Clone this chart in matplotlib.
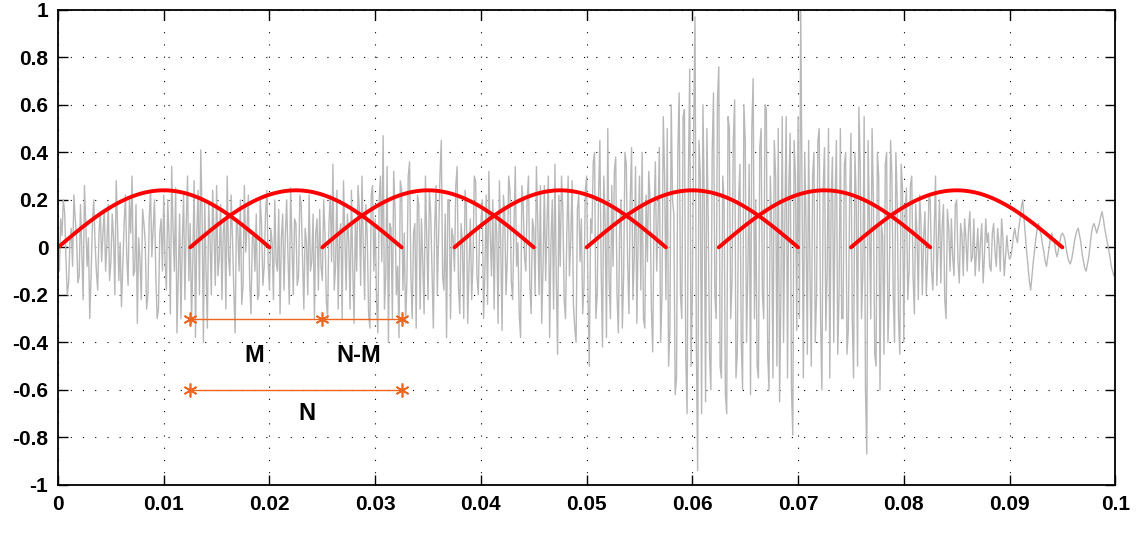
import numpy as np
import matplotlib
matplotlib.use('Agg')
import matplotlib.pyplot as plt

plt.rcParams['font.family'] = ['Liberation Sans', 'DejaVu Sans']

# speech-like signal: even samples, every 0.25 ms
signal_even = [
    0.02, 0.12, 0.2, -0.05, -0.15, 0.08, 0.22, 0.05, -0.12, -0.02, 0.26, -0.08, -0.3, 0.1, 0.02, -0.18, 0.15, 0.06, -0.1, 0.18,
    -0.06, 0.04, 0.28, -0.14, -0.25, 0.1, -0.04, 0.2, 0.3, -0.1, -0.32, -0.05, 0.16, 0.02, -0.2, 0.24, 0.08, -0.12, -0.26, 0.12,
    0.22, -0.18, 0.05, 0.34, -0.1, -0.36, 0.14, 0.02, -0.22, 0.3, 0.1, -0.05, -0.38, 0.24, 0.41, -0.4, -0.1, 0.18, -0.2, 0.06,
    0.26, -0.04, -0.22, 0.12, 0.3, -0.12, 0.04, -0.36, 0.08, 0.2, -0.16, -0.02, 0.22, -0.28, 0.06, 0.14, -0.2, 0.1, -0.08, 0.24,
    -0.18, 0.02, 0.2, -0.1, -0.28, 0.14, 0.05, -0.04, 0.25, -0.2, 0.1, -0.12, 0.18, -0.26, 0.02, 0.22, -0.06, -0.3, 0.12, 0.16,
    -0.14, 0.06, -0.3, 0.22, 0.35, -0.08, -0.26, 0.1, 0.28, -0.18, 0.02, 0.24, -0.32, -0.1, 0.16, 0.3, -0.22, 0.04, -0.34, 0.26,
    0.12, -0.36, 0.3, 0.47, -0.12, -0.4, 0.08, 0.32, -0.2, -0.38, 0.24, 0.06, -0.14, 0.36, -0.3, 0.1, 0.22, -0.26, -0.06, 0.3,
    -0.22, 0.14, -0.34, 0.26, 0.04, 0.45, -0.18, -0.38, 0.2, 0.08, -0.1, 0.34, -0.28, 0.02, 0.24, -0.32, 0.12, -0.06, 0.28, -0.2,
    0.1, -0.3, 0.22, 0.32, -0.12, -0.26, 0.06, 0.28, -0.35, 0.14, -0.04, 0.24, -0.22, 0.34, 0.02, -0.38, 0.18, -0.1, 0.3, -0.28,
    0.08, 0.34, -0.2, -0.32, 0.26, 0.1, -0.38, 0.2, 0.35, -0.45, -0.08, 0.16, -0.3, 0.3, 0.04, -0.24, -0.4, 0.22, 0.12, -0.16,
    0.3, -0.5, 0.06, 0.4, -0.2, 0.45, -0.42, 0.1, 0.5, -0.3, -0.08, 0.38, -0.36, 0.2, -0.12, 0.35, -0.28, 0.42, -0.04, -0.32,
    0.3, 0.4, -0.34, -0.06, 0.2, -0.44, 0.36, 0.1, -0.4, 0.55, -0.22, -0.5, 0.6, 0.14, -0.55, 0.65, -0.3, 0.58, -0.7, 0.75,
    -0.2, 0.97, -0.94, 0.3, 0.6, -0.65, 0.12, -0.6, 0.65, -0.3, 0.76, -0.55, 0.2, -0.7, 0.5, -0.15, 0.62, -0.45, 0.35, -0.6,
    0.45, -0.1, -0.62, 0.71, 0.2, -0.55, 0.5, -0.3, 0.58, -0.6, 0.1, 0.45, -0.5, -0.65, 0.55, 0.12, -0.55, 0.48, -0.79, 0.3,
    0.55, 1.0, -0.55, 0.1, 0.45, -0.5, 0.4, -0.2, 0.5, -0.6, 0.42, -0.1, -0.55, 0.38, 0.2, -0.45, 0.5, -0.3, 0.4, -0.35,
    0.48, -0.55, 0.2, 0.59, -0.3, 0.55, -0.87, 0.1, 0.5, -0.45, 0.4, -0.6, 0.05, 0.35, -0.4, 0.45, -0.2, 0.4, -0.3, 0.35,
    -0.4, 0.25, -0.1, 0.3, -0.28, 0.05, 0.22, -0.2, 0.15, -0.05, 0.2, -0.18, 0.3, 0.02, -0.15, 0.18, -0.3, 0.08, 0.12, -0.12,
    0.2, -0.15, 0.05, 0.12, -0.1, 0.15, -0.04, -0.12, 0.08, 0.02, -0.15, 0.12, 0.06, -0.1, 0.1, -0.08, 0.02, 0.12, -0.12, 0.05,
    -0.05, 0.0, 0.08, 0.02, 0.12, 0.2, 0.05, -0.08, -0.18, -0.06, 0.04, 0.1, 0.05, -0.02, -0.08, 0.0, 0.06, 0.02, -0.04, 0.02,
    0.06, 0.03, -0.04, -0.07, -0.02, 0.05, 0.08, 0.02, -0.06, -0.1, -0.04, 0.06, 0.1, 0.06, 0.1, 0.15, 0.08, 0.02, -0.04, -0.1,
]
# odd samples, in between the even ones
signal_odd = [
    -0.1, 0.05, 0.15, -0.2, 0.02, -0.08, 0.12, -0.15, 0.18, -0.22, 0.1, 0.04, -0.12, 0.2, -0.1, 0.06, -0.06, 0.16, 0.02, -0.14,
    0.14, -0.2, 0.1, 0.02, -0.08, 0.22, -0.16, 0.06, -0.12, 0.18, 0.04, -0.22, 0.1, -0.26, 0.12, -0.04, 0.2, -0.3, 0.06, -0.1,
    -0.06, 0.2, -0.28, 0.08, 0.25, -0.12, -0.3, 0.22, 0.1, -0.14, -0.32, 0.28, 0.06, -0.2, 0.14, 0.2, -0.34, 0.04, 0.24, -0.16,
    -0.12, 0.18, 0.06, -0.26, -0.04, 0.22, -0.18, 0.12, -0.1, -0.24, 0.26, 0.08, -0.14, 0.04, -0.1, -0.22, 0.2, -0.16, 0.14, -0.06,
    0.08, -0.22, -0.06, 0.16, 0.04, -0.18, 0.2, -0.24, 0.02, 0.12, -0.16, 0.22, -0.04, 0.08, -0.2, -0.1, 0.14, 0.06, -0.18, -0.08,
    0.2, -0.22, 0.1, -0.06, -0.18, 0.24, 0.06, -0.3, 0.04, 0.14, -0.26, -0.08, 0.12, 0.26, -0.16, 0.0, 0.18, -0.28, 0.22, -0.1,
    -0.22, 0.2, -0.06, -0.26, 0.34, 0.1, -0.3, 0.16, -0.08, 0.28, -0.18, -0.32, 0.3, -0.12, 0.06, -0.34, 0.18, 0.12, -0.28, 0.04,
    0.24, -0.1, 0.08, -0.2, 0.3, -0.12, 0.14, 0.2, -0.3, 0.04, 0.26, -0.16, 0.1, -0.3, 0.18, -0.08, -0.22, 0.3, -0.12, 0.08,
    0.2, -0.1, -0.24, 0.06, 0.2, 0.14, -0.32, 0.02, 0.22, -0.2, 0.3, -0.14, 0.08, -0.08, -0.28, 0.26, -0.04, 0.2, -0.16, 0.12,
    -0.2, 0.1, 0.26, -0.08, -0.14, 0.3, 0.02, -0.26, -0.12, 0.22, 0.3, -0.22, 0.06, -0.12, 0.28, -0.34, 0.16, -0.06, -0.28, 0.24,
    -0.2, 0.12, 0.36, -0.3, 0.22, -0.1, 0.3, -0.38, -0.14, 0.26, 0.32, -0.2, 0.08, -0.34, 0.4, -0.06, 0.2, -0.22, 0.34, 0.06,
    -0.18, -0.3, 0.22, 0.32, -0.26, 0.14, -0.1, 0.42, -0.2, 0.3, 0.5, -0.35, 0.2, -0.62, 0.4, -0.2, 0.55, -0.45, 0.3, -0.5,
    0.5, -0.4, 0.45, -0.7, 0.2, 0.5, -0.45, 0.4, -0.2, 0.62, -0.5, 0.3, -0.62, 0.55, -0.3, 0.45, -0.55, 0.2, -0.4, 0.6,
    -0.4, 0.35, 0.5, -0.3, -0.5, 0.42, -0.2, 0.6, -0.45, 0.3, -0.55, 0.3, 0.5, -0.2, -0.4, 0.55, 0.25, -0.6, 0.45, -0.35,
    -0.3, 0.2, 0.4, -0.45, -0.1, 0.3, -0.4, 0.45, -0.3, 0.25, -0.35, 0.5, 0.2, -0.4, 0.45, -0.2, -0.3, 0.35, -0.45, 0.2,
    -0.3, 0.4, -0.5, 0.35, -0.1, -0.6, 0.45, -0.3, 0.2, -0.5, 0.3, 0.1, -0.45, 0.4, -0.2, 0.3, -0.4, 0.2, -0.45, 0.25,
    0.15, -0.22, 0.26, -0.12, 0.18, -0.22, 0.1, 0.04, -0.2, 0.22, -0.1, 0.06, -0.16, 0.2, 0.08, -0.22, 0.16, -0.1, -0.04, 0.18,
    -0.06, 0.1, -0.12, 0.04, 0.08, -0.06, 0.12, -0.02, -0.1, 0.1, -0.04, 0.02, -0.08, 0.06, -0.02, 0.08, -0.1, 0.04, -0.04, -0.02,
    -0.04, 0.05, 0.04, 0.08, 0.17, 0.12, -0.02, -0.14, -0.12, -0.01, 0.08, 0.07, 0.01, -0.06, -0.04, 0.04, 0.03, -0.02, -0.01, 0.05,
    0.05, -0.01, -0.06, -0.05, 0.02, 0.07, 0.05, -0.03, -0.09, -0.07, 0.01, 0.09, 0.08, 0.08, 0.13, 0.12, 0.05, -0.01, -0.08, -0.12,
]
dt = 0.000125

signal = np.empty(len(signal_even) + len(signal_odd))
signal[0::2] = signal_even
signal[1::2] = signal_odd
t = np.arange(len(signal)) * dt

# analysis windows
win_starts = [0.0, 0.0125, 0.025, 0.0375, 0.05, 0.0625, 0.075]
win_len = 0.02
win_amp = 0.24

# frame annotations
m_marks_x = [0.0125, 0.025, 0.0325]
m_marks_y = -0.3
n_marks_x = [0.0125, 0.0325]
n_marks_y = -0.6
labels = [('M', 0.0186, -0.455), ('N-M', 0.0284, -0.455), ('N', 0.0235, -0.70)]

xticks = [0, 0.01, 0.02, 0.03, 0.04, 0.05, 0.06, 0.07, 0.08, 0.09, 0.1]
xticklabels = ['0', '0.01', '0.02', '0.03', '0.04', '0.05', '0.06', '0.07', '0.08', '0.09', '0.1']
yticks = [-1, -0.8, -0.6, -0.4, -0.2, 0, 0.2, 0.4, 0.6, 0.8, 1]
yticklabels = ['-1', '-0.8', '-0.6', '-0.4', '-0.2', '0', '0.2', '0.4', '0.6', '0.8', '1']

fig = plt.figure(figsize=(11.38, 5.43), dpi=100)
ax = fig.add_axes([0.051, 0.107, 0.929, 0.875])

ax.plot(t, signal, color='#b8b8b8', linewidth=1.0)

orange = '#ee661e'
asterisk = (6, 2, 0)
for s in win_starts:
    tw = np.linspace(s, s + win_len, 100)
    ax.plot(tw, win_amp * np.sin(np.pi * (tw - s) / win_len), color='red', linewidth=2.8,
            solid_capstyle='round')

ax.plot(m_marks_x, [m_marks_y] * len(m_marks_x), color=orange, linewidth=1.0,
        marker=asterisk, markersize=10, markeredgewidth=1.2)
ax.plot(n_marks_x, [n_marks_y] * len(n_marks_x), color=orange, linewidth=1.0,
        marker=asterisk, markersize=10, markeredgewidth=1.2)

for txt, x, y in labels:
    ax.text(x, y, txt, ha='center', va='center', fontsize=17, fontweight='bold')

ax.set_xlim(0, 0.1)
ax.set_ylim(-1, 1)
ax.set_xticks(xticks)
ax.set_xticklabels(xticklabels)
ax.set_yticks(yticks)
ax.set_yticklabels(yticklabels)
ax.tick_params(direction='in', length=7, width=1, top=True, right=True,
               labelsize=15, pad=7)
for lbl in ax.get_xticklabels() + ax.get_yticklabels():
    lbl.set_fontweight('bold')
for sp in ax.spines.values():
    sp.set_linewidth(1.3)
ax.grid(True, color='black', linestyle=(0, (1, 10)), linewidth=0.8)

fig.savefig('out.png', dpi=100)
